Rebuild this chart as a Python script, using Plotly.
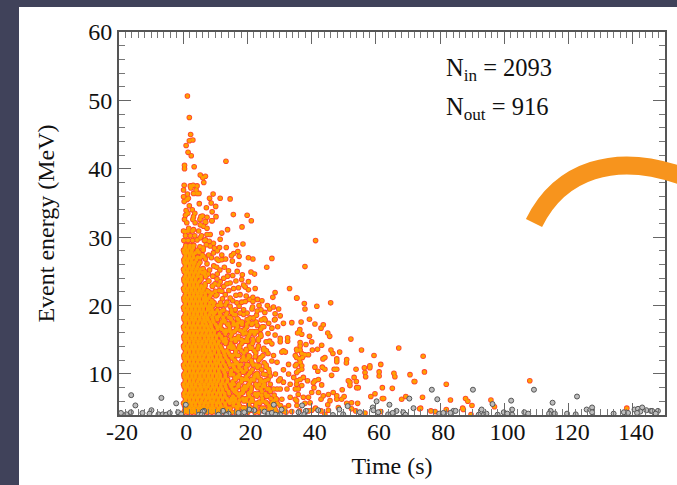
import plotly.graph_objects as go

x_ticks = [-20, 0, 20, 40, 60, 80, 100, 120, 140]
x_labels = ["-20", "0", "20", "40", "60", "80", "100", "120", "140"]
y_ticks = [10, 20, 30, 40, 50, 60]
y_labels = ["10", "20", "30", "40", "50", "60"]

# (time s, energy MeV)
in_top = [(1.3,50.65),(1.9,47.5),(2.3,45.0),(1.9,44.1),(3.0,44.2),(0.9,43.4),(1.5,42.4),(2.5,41.9),(13.3,41.1),(0.4,40.5),(0.4,40.0),(3.4,40.3),
(5.3,39.1),(6.9,38.9),(6.1,38.7),(6.4,38.0),(3.1,37.6),(0.3,37.6),(0.1,36.9),(2.2,37.5),(2.4,37.2),(4.3,37.5),(4.0,36.9),(3.2,36.4),(4.3,36.4),(4.9,36.4),
(1.3,36.3),(0.1,35.9),(1.6,35.7),(0.3,35.2),(1.2,35.5),(8.2,35.7),(9.3,36.3),(11.5,35.7),(14.6,35.6),(5.0,34.9),(8.7,35.0),(10.1,34.5),(1.9,34.6),(2.8,34.0),(7.2,34.3),(9.0,33.7),
(0.9,33.9),(0.7,33.2),(1.4,33.5),(3.6,33.5),(3.2,33.0),(3.0,32.6),(15.6,33.3),(19.9,33.2),(10.2,33.0),(21.2,32.4),(8.9,32.4),(18.3,31.5),(13.8,31.1),(5.5,33.0),(6.0,33.1),(5.2,32.6),
(7.4,32.9),(7.0,32.2),(0.4,32.6)]
in_mid = [(12,30.6),(11.5,29.7),(16.5,28.9),(18.6,29),(13.4,28.5),(11.3,28.5),(17,27.9),(15.7,27.6),(15,27.3),(12,27.4),(17.4,27.2),(20.3,27),(21.7,26.8),(27.6,26.9),(15.3,26.5),(17.3,26),(26,25.6),(14.1,25.1),(21.1,24.9),(22.2,24.6),(18.4,24.5),
(11,26.6),(12,26.7),(10.5,26.8),(9.4,27.7),(9.7,28.4),(8.4,28.7),(7.2,28.9),(7.9,27.4),(6.3,27.2),(5.3,27),(3.7,27.7),(5.3,29.9),(4.3,29.6),(7.4,30.4),(8.4,30.4),(7.4,31.3),(6.3,31.6),(4.8,30.9),(3.7,32.1),(3.2,31.1),(1.7,31.3),(0.6,30.8),(1.1,32.1),(9,32.4),(6.8,32.3),(5.3,31.8),
(14.6,23.3),(13.6,23.2),(12.6,22.8),(11.5,23.5),(10.5,23.9),(12.6,24),(13.8,24.3),(11,23),(10,22.1),(10.5,21.6),(12,22.1),(13.1,21.6),(14.6,21.1),(20.3,23.5),(18.2,23.8),(18.8,23),(17.2,22.6),(15.7,22.5),(19.3,22.7),(20.3,22.3),(22.4,22.5),(17.7,21.6),
(33.1,22.5),(28.6,21.9),(27.9,21.2),(35.4,21.1),(24.5,20.7),(23.1,20.9),(21.7,21.2),(21.7,20.6),(19.3,20.6),(18.2,20.5),(23.6,20),(21.6,19.8),(18.8,19.4),(21.4,19.5),(26.2,20),(26.9,19.5),(28.1,19.8),(29.7,19.5),(28.6,18.8),(30.2,18.5),(23,19.2),(16.7,20.4),(14.6,19.9),(16.2,19.4),(13.1,20.1),(17.7,18.9),(18.8,18.7),(15.7,18.7),(13.6,18.9),(21.9,18.2),(25.2,18.1),(28.6,18),
(9.5,25.8),(8.2,25.2),(7.4,26.1),(6.2,25.4),(9.2,24.3),(8,23.6),(7,24.2),(9.1,22.8),(8,22),(7.2,21),(9.2,20.5),(10.8,20),(12,19.2),(11,18.4),(9.2,19),(8,19.5),
(41.2,29.5),(37.9,25.7),(35.3,21.1),(37.7,20.3),(37.9,19.5),(41.6,19.9),(45.9,20.4)]
in_right = [(25.5,17.9),(28.4,17.9),(31.2,17.4),(33.8,17.5),(35.6,16),(30.2,15.2),(32.5,15.3),(30.2,14.7),(32.5,14.8),(31.8,13.2),(30.7,13.2),(31.2,13.4),(35.4,13.4),(34.9,12.7),(36.2,12.2),(32.8,11.4),(34.9,11.2),(31.2,10.6),(30.2,9.3),(34.4,9.5),(32.8,10),(35.9,10.5),(28.1,12.7),(27.6,11.9),(29.2,11.7),(28.7,10),(27.1,9.7),(29.7,9),(31.2,8.8),(33.3,8.5),(35.4,9),(34.9,7.8),(32.3,7.8),(30.2,7.8),(29.2,7.8),(27.1,8.5),(25.5,9),(26.1,7.8),(34.9,6.3),(30.7,6.3),(33.3,6.6),(30.2,5.4),(32.8,5.4),(35.4,5.4),
(36.7,17.6),(39.3,18.0),(41.0,17.3),(43.6,17.2),(42.9,16.7),(36.3,16.5),(36.1,16.1),(36.9,15.8),(39.3,15.5),(45,16),(45.6,15.5),(52.2,15.1),(36.4,14.6),(36.4,14.1),(40,14.7),(38.2,14.3),(43.1,14.2),(67.1,13.8),(55.5,13.5),(46,13.5),(46.6,13.0),(48.7,13.2),(40.2,13.5),(41.8,13.6),(35.3,13.6),(36.4,13.5),(39,12.8),(37.9,12.8),(36.9,13),(35.3,12.4),(37.1,12.4),(44.1,12.4),(43.5,12.2),(47.8,12.2),(47.8,11.8),(50.9,12.1),(50.8,11.6),(59.4,12.7),(61.5,11.4),(58.1,11.2),(58.1,10.9),(56.4,10.9),(53.8,10.7),(41,11),(43.3,11),(44.1,10.7),(41.9,10.4),(47.8,10.7),(47,10.7),(35.3,11.4),(36.4,11.7),(36.9,11.2),(35.3,10.2),(36.9,10.7),(37.4,9.5),(36.4,9.2),(38.7,9),(46.2,9.8),(53.2,9.5),(56.6,10.2),(56.8,9.6),(61,10.3),(61,9.7),(65.6,10.1),(65.9,9.6),(70.6,9.9),(71.9,8.9),(51.4,9),(51.9,8.8),(53.9,8.9),(42.1,9.2),(41,9),(40.5,8.7),(43.1,8.4),(40.7,8),(54,8),(54.5,8),(49.5,7.7),(62,8),(65.1,7.9),(51.9,8.3),(35.3,8.5),(35.8,7.8),(36.9,8.3),(42.1,7.3),(43.6,6.8),(45.2,7),(46.7,7.3),(47.8,6.8),(47.8,6.3),(50.1,6.7),(49.3,6.3),(42.9,6.3),(45.7,6.1),(45,5.5),(40,7.3),(39,6.6),(37.4,6.6),(39.5,5.8),(37.9,5.7),(35.8,7),(35.3,6.1),(58.4,6.7),(59.7,7.1),(62,6.4),(62.4,6.4),(68,6.3),(69.3,6.7),(52.4,5.8),(54.3,5.7),(50.9,5.7),(48.3,5.1),(52.4,4.9),(53.7,4.6),(45.2,4.7),(40,4.7),(41.2,5),(39,4.6),(61.5,4.5),(56.6,4.3),(44.1,4.1),(42.9,4.6),
(74.7,12.6),(75.1,10.3),(72.1,8.9),(81.9,8.5),(74.5,6.6),(83.2,6.2),(87.9,6.4),(88.6,6),(89.9,5.4),(95.8,6.2),(96.9,5.2),(73.9,5),(73.6,4.9),(77.1,4.6),(78.4,4.5),(81.9,4.8),(87,5),(87.2,4.8),(89.6,4.05),(107.9,9),(138.1,5)]

# clumps between 6 and 30 s that fill the middle of the cloud
in_clumps = [(6.9,29.6),(8.1,29.4),(9.4,29.1),(6.2,28.4),(5.2,28.6),(10.6,28.0),(8.8,27.0),(6.9,26.8),(10.4,25.6),(11.4,25.2),(12.8,25.6),(13.2,26.8),(5.9,24.8),(7.8,24.6),(10.6,24.6),(12.2,21.0),(9.9,23.2),(15.4,24.4),(16.4,23.6),(16.8,25.0),(11.2,22.2),(14.2,22.2),(16.4,21.5),(15.4,20.7),(13.6,20.5),(11.6,20.4),(19.6,21.4),(20.6,20.9),(17.4,19.9),(19.9,18.9),(20.8,18.2),(22.8,18.6),(24.2,19.4),(25.4,19.0),(24.3,17.9),(26.6,17.4),(14.8,18.2),(16.8,18.1),(12.9,17.8),(14.1,17.3),(15.6,17.2),(17,17.4),(18.4,17.6),(19.8,17.3),(21.6,17.4),(23,17.1),(25.1,16.9),(27.6,16.7),(29.4,16.9),(13.3,16.4),(14.6,16.2),(16,16.2),(17.7,16.4),(19.5,16.0),(21,16.2),(22.6,16.2),(24.1,15.8),(26.4,15.9),(28.6,15.7),(13.2,15.2),(15,15),(16.6,15.2),(18.2,15.0),(20,14.8),(21.7,15.1),(23.4,14.9),(25.8,14.7),(27.6,14.4),(14.2,13.9),(15.8,13.8),(17.6,13.9),(19.6,13.6),(21.4,13.8),(23.2,13.7),(25,13.5),(26.4,13.0),(14.6,12.7),(16.8,12.7),(18.7,12.5),(20.6,12.6),(22.4,12.5),(24.2,12.4),(16.2,11.5),(18,11.4),(19.8,11.4),(21.8,11.3),(23.8,11.2),(25.8,11),(15,10.5),(17,10.4),(18.9,10.3),(20.9,10.2),(23,10.1),(24.9,10),(26.6,10.7),(16.1,9.4),(18.2,9.3),(20,9.2),(22,9.1),(24,9),(15.2,8.4),(17.2,8.3),(19.1,8.2),(21.2,8.1),(23.2,8.0),(24.8,8.2),(16.4,7.3),(18.4,7.2),(20.4,7.2),(22.4,7.0),(24.4,6.9),(26.4,6.8),(28.3,6.9),(15.4,6.2),(17.6,6.2),(19.6,6.1),(21.6,6.0),(23.6,5.9),(25.6,5.9),(27.6,5.8),(29,6.3),(16.6,5.2),(18.7,5.1),(20.7,5.0),(22.7,5.0),(24.7,4.9),(26.7,4.9),(28.6,4.8),(31,4.6),(33.8,4.5),(36.2,4.6)]

# energy of each row in the filled region, and the times read along that row
row_energy = [4.4,5.0,5.7,6.4,7.1,7.8,8.5,9.2,9.9,10.6,11.3,12.0,12.7,13.4,14.1,14.8,15.5,16.2,16.9,17.6,18.3,19.0,19.7,20.4,21.1,21.8,22.5,23.2,23.9,24.6,25.3,26.0,26.7,27.4,28.1,28.8,29.5,30.2,30.9]
row_times = [
[0.2,1.4,2.7,3.9,5.1,6.4,7.6,8.9,10.2,11.5,12.7,15.2,16.4,17.8,20.1,22.3,23.6,26.1,29,32],
[0.7,2.1,3.3,4.6,5.8,7.1,8.4,9.5,11,12.2,13.8,14.6,16.9,18.5,19.6,21.2,24.4,25.2,27.5,28.4,31.6],
[0.1,1.3,2.6,3.8,5.2,6.5,7.7,9,10.3,11.4,13,14.5,15.7,17.2,20.4,22.7,23.8,26,29.3],
[0.8,2,3.3,4.5,5.9,7.2,8.3,9.6,10.9,12.3,13.6,15,16.2,18.6,19.7,21.4,24.6,27.3,28.8],
[0.2,1.5,2.7,4,5.2,6.6,7.8,9,10.4,11.6,12.9,14.3,16.8,17.8,20.3,22.4,23.4,25.6],
[0.7,2.1,3.3,4.6,5.8,7.1,8.5,9.7,11,12.2,13.5,15.3,16.4,18.4,19.5,21.2,24.2,26.7,28.1],
[0.1,1.4,2.6,3.9,5.2,6.5,7.8,9,10.3,11.7,13,14.6,15.8,17.3,20.4,22.6,23.7,25.2],
[0.7,2,3.3,4.7,5.8,7.2,8.4,9.7,11,12.3,13.8,16.3,18.4,19.2,21.3,24.1,26.4],
[0.2,1.4,2.7,3.9,5.2,6.5,7.8,9.1,10.4,11.5,13.1,14.7,15.6,17.4,20.3,22.4,23.2,25.7],
[0.8,2,3.3,4.6,5.9,7.2,8.4,9.7,11,12.4,13.7,16.2,18.1,19.6,21.5,24.4],
[0.1,1.4,2.7,3.9,5.2,6.5,7.8,9.1,10.3,11.6,13,14.5,15.4,17.3,20.2,22.7,25.8],
[0.7,2,3.3,4.6,5.8,7.2,8.4,9.8,11.1,12.3,13.9,16,18.3,19.5,21.2,23.5],
[0.2,1.4,2.7,3.9,5.2,6.5,7.8,8.9,10.4,11.6,13,14.7,15.6,17.2,20.4,24.8],
[0.8,2,3.3,4.6,5.9,7.2,8.3,9.7,11,12.4,13.6,16.4,18.1,19.7,22.1,25.9],
[0.1,1.4,2.7,3.9,5.2,6.5,7.8,9,10.3,11.6,14.6,15.5,17.5,20.6,23.4],
[0.7,2,3.3,4.6,5.9,7.2,8.5,9.6,11.1,12.6,13.4,16.3,18.6,19.4,21.8,26.9],
[0.2,1.4,2.7,3.9,5.2,6.5,7.8,9,10.4,11.8,14.7,17.2,20.3,24.2],
[0.8,2,3.3,4.6,5.9,7.2,8.4,9.7,12.7,13.5,15.8,18.4,21.6,22.9],
[0.1,1.4,2.7,3.9,5.2,6.5,7.7,8.8,10.5,11.4,14.4,16.9,19.8,24.6],
[0.7,2,3.3,4.6,5.9,7,8.3,9.5,11.9,13,15.6,17.8,20.4,22.7],
[0.2,1.4,2.7,3.9,5.1,6.4,7.5,9,10.4,12.4,14.2],
[0.8,2,3.3,4.5,5.7,6.9,8.4,9.9,11.3,15.1],
[0.1,1.4,2.6,3.8,5,6.2,7.6,8.8],
[0.7,2,3.2,4.4,5.6,6.9,8.3,9.6],
[0.2,1.4,2.6,3.8,5,6.3,8],
[0.8,2,3.2,4.4,5.6,6.8,9],
[0.1,1.4,2.6,3.8,5.1,6.4],
[0.7,2,3.2,4.5,6.8],
[0.2,1.4,2.6,3.9,5.6],
[0.8,2,3.3,4.6,6.6],
[0.1,1.4,2.7,4,5.3],
[0.7,2,3.3,4.7],
[0.2,1.4,2.6,4.1],
[0.7,2,3.1,5.9],
[0.1,1.3,2.7,4.4,6.2],
[0.8,2.1,3.3],
[0.2,1.5,2.9,6.6],
[0.7,2.2,3.6,5.7],
[0.1,1.5,2.8],
]

# rows between the rows above, inside the solid part of the cloud
fill_energy = [4.7,5.35,6.05,6.75,7.45,8.15,8.85,9.55,10.25,10.95,11.65,12.35,13.05,13.75,14.45,15.15,15.85,16.55,17.25,17.95,18.65,19.35,20.05,20.75,21.45,22.15,22.85,23.55,24.25,24.95,25.65,26.35,27.05,27.75,28.45]
fill_times = [
[0.5,1.1,2.1,3.3,4.5,5.8,7.0,8.3,9.5,10.8,12.1,13.5,14.3,16.9,19.0,21.0,24.9],
[0.4,1.5,2.7,3.9,5.2,6.4,7.7,9.0,10.3,11.7,13.1,15.6,17.5,20.4,22.6,26.7,30.3],
[0.6,2.0,3.2,4.5,5.7,7.0,8.4,9.5,10.9,12.2,13.9,14.7,16.4,18.9,21.1,24.7,28.1],
[0.3,1.4,2.6,3.9,5.2,6.5,7.8,9.0,10.2,11.6,13,15.5,17.3,20.6,22.9,25.9],
[0.6,2.1,3.3,4.6,5.8,7.1,8.2,9.6,11,12.3,14.1,15.9,18.7,21.0,24.5,27.1],
[0.3,1.4,2.7,3.9,5.3,6.5,7.7,9.1,10.3,11.7,13.2,14.9,17.1,19.9,22.9,25.3],
[0.6,2,3.2,4.5,5.8,7.1,8.4,9.6,10.8,12.2,13.7,15.4,18.1,20.8,24.6],
[0.3,1.4,2.7,3.9,5.2,6.5,7.8,9,10.4,11.5,13.1,16.7,17.2,19.6,22.1,23.3],
[0.6,2,3.2,4.5,5.8,7.1,8.4,9.7,11.1,12.8,14.8,18.6,20.8,26.8],
[0.3,1.5,2.7,3.9,5.2,6.5,7.8,9,10.3,11.7,13.3,15.8,17.4,19.4,23.1],
[0.6,2,3.2,4.5,5.9,7.1,8.5,9.9,10.9,12.4,14.2,16.7,21.4,25.2],
[0.3,1.4,2.7,3.9,5.2,6.4,7.8,9.0,10.4,11.7,13.3,15.2,18.8,20.2,23.9],
[0.6,2,3.3,4.6,5.8,7.1,8.4,9.6,11.1,12.7,14.1,16.3,18.9,22.6],
[0.3,1.4,2.7,3.9,5.2,6.5,7.8,9.1,10.5,11.9,15.1,17.3,20.9,25.1],
[0.6,2,3.3,4.6,5.8,7.1,8.4,9.7,10.9,13.2,14.8,18.2,21.5],
[0.3,1.4,2.7,3.9,5.2,6.6,7.8,9,10.3,12.1,15.9,17.2,19.9,23.4],
[0.6,2,3.2,4.5,5.8,7.1,8.4,9.6,11.2,13.1,15.1,18.7,20.7,22.2],
[0.3,1.4,2.7,3.9,5.2,6.5,7.8,9.1,10.7,12,14.4,16.6,19.2,24.1],
[0.6,2,3.2,4.5,5.9,7.2,8.6,10.1,11.6,13.8,16.2,18.3,21.3],
[0.3,1.4,2.7,3.8,5.2,6.5,7.7,9.2,10.6,12.5,14.9,17.1,19.9],
[0.6,2,3.2,4.4,5.7,7,8.2,9.5,11.5,13.3,16.3],
[0.3,1.4,2.6,3.8,5,6.2,7.6,9,10.6,12.6,15],
[0.6,2,3.2,4.4,5.6,6.8,8.1,9.4,11.8],
[0.3,1.4,2.6,3.8,5,6.3,7.4,8.9],
[0.6,2,3.2,4.4,5.5,6.9,8.4,10.1],
[0.3,1.4,2.6,3.8,5,6.1,7.5],
[0.6,2,3.2,4.4,5.6,6.8,9.1],
[0.3,1.4,2.6,3.8,5.1,7.8],
[0.6,1.9,3.1,4.4,5.5],
[0.3,1.4,2.6,3.8,5,6.8],
[0.6,2,3.1,4.4],
[0.3,1.4,2.6,3.6,5.2],
[0.6,1.9,3.2,4.5],
[0.3,1.4,2.5,4.9],
[0.6,1.9,3.1],
]

out_points = [(-16.2,6.9),(-14.9,5.4),(-6.8,6.5),(-2.2,5.7),(0.8,5.5),(-9.9,4.7),(-16.3,4.4),(-19.4,4.3),(-17.7,4.1),(-12.7,4.3),(-10.5,4.2),(-7.7,4.1),(-6.4,4.1),(-5.3,4.05),(-4.2,4.3),(-1.6,4.4),(-0.6,4.1),(6.5,4.6),(6.1,4.5),(4.9,4.05),(5.8,4.05),(12.4,4.6),(11,4.05),(14.1,4.2),(13.4,4.0),(17.2,4.3),(19,4.4),(20.5,4.8),(22.1,4.7),(25.3,4.5),(26.4,4.2),(27.6,4.3),(28.8,4.05),(30.2,4.05),(28.2,5.5),(30.6,4.8),(37,5.4),(35.9,4.4),(38.2,4.6),(37.7,4.1),(42,4.7),
(48.6,4.8),(51.2,5.3),(46.6,4),(49.8,4.1),(60.2,6),(59,5.1),(59.2,4.7),(64.2,5.5),(55,4.4),(60.7,4.4),(63.8,4.1),(66.4,4.6),(65.2,4.3),(68.5,4.4),(69.2,4.05),(70.4,6.4),(71.7,5),
(77.4,7.7),(90.2,7.7),(79.1,6.3),(96.3,5.6),(102.1,6.1),(102.4,4.8),(92.9,4.8),(84.1,4.6),(84.8,4.6),(79.7,4.2),(81,4.3),(83.2,4.3),(92,4.05),(93.6,4.05),(94.4,4.2),(97.9,4.05),(99.8,4.4),(100.9,4.2),(102.4,4.05),(106.2,4.4),(107.4,4.2),
(109.2,7.7),(115,5.8),(122.6,6.7),(125.6,4.8),(127.3,5.1),(127.3,4.4),(114.4,4.6),(113.9,4.2),(115.7,4.2),(119.5,4.2),(122.2,4.1),(134,4.2),(137.2,4.4),(138.5,4.3),(140.5,4.8),(141.6,4.9),(142.9,5.1),(142.3,4.5),(141.3,4.3),(144.2,4.7),(145.6,4.6),(146,4.6),(147.8,4.6),(147.1,4.2)]

in_points = in_top + in_mid + in_right + in_clumps
in_time = [p[0] for p in in_points]
in_energy = [p[1] for p in in_points]
for e, times in list(zip(row_energy, row_times)) + list(zip(fill_energy, fill_times)):
    in_time += times
    in_energy += [e] * len(times)
out_time = [p[0] for p in out_points]
out_energy = [p[1] for p in out_points]

SERIF = "Liberation Serif"
L, R, T, B = 119, 12, 32, 70
W, H = 677 - L - R, 485 - T - B

def px(v):
    return (v - L) / W

def py(v):
    return 1 - (v - T) / H

fig = go.Figure()
fig.add_trace(go.Scatter(x=in_time, y=in_energy, mode="markers", hoverinfo="skip",
    marker=dict(size=5.6, color="#ff4030", line=dict(width=0))))
fig.add_trace(go.Scatter(x=in_time, y=in_energy, mode="markers", hoverinfo="skip",
    marker=dict(size=4.0, color="#ffa000", line=dict(width=0))))
fig.add_trace(go.Scatter(x=out_time, y=out_energy, mode="markers", hoverinfo="skip",
    marker=dict(size=5, color="#bdbdbd", line=dict(width=1, color="#555555"))))

axis_common = dict(showgrid=False, zeroline=False, showline=True, linewidth=2, linecolor="#555555",
    mirror="allticks", ticks="inside", ticklen=12, tickwidth=1, tickcolor="#666666",
    tickfont=dict(family=SERIF, size=24, color="#111111"))
fig.update_xaxes(range=[-20, 150], tickmode="array", tickvals=x_ticks, ticktext=x_labels,
    ticklabelshift=3, ticklabelstandoff=-6,
    minor=dict(dtick=2, tick0=0, ticks="inside", ticklen=6, tickwidth=1, tickcolor="#777777", showgrid=False),
    title=dict(text="Time (s)", font=dict(family=SERIF, size=24, color="#111111"), standoff=13),
    **axis_common)
fig.update_yaxes(range=[4, 60], tickmode="array", tickvals=y_ticks, ticktext=y_labels,
    minor=dict(dtick=2, tick0=0, ticks="inside", ticklen=6, tickwidth=1, tickcolor="#777777", showgrid=False),
    title=dict(text="Event energy (MeV)", font=dict(family=SERIF, size=24, color="#111111"), standoff=27),
    **axis_common)

fig.add_annotation(x=px(444), y=py(69), xref="paper", yref="paper", xanchor="left", yanchor="middle",
    showarrow=False, text="N<sub>in</sub> = 2093", font=dict(family=SERIF, size=24.5, color="#111111"))
fig.add_annotation(x=px(444), y=py(108), xref="paper", yref="paper", xanchor="left", yanchor="middle",
    showarrow=False, text="N<sub>out</sub> = 916", font=dict(family=SERIF, size=24.5, color="#111111"))

fig.update_layout(width=677, height=485, autosize=False, showlegend=False,
    margin=dict(l=L, r=R, t=T, b=B, pad=0, autoexpand=False),
    paper_bgcolor="#40425a", plot_bgcolor="rgba(0,0,0,0)",
    shapes=[
        dict(type="rect", xref="paper", yref="paper", layer="below",
             x0=px(19), x1=px(677), y0=py(485), y1=py(7), fillcolor="white", line=dict(width=0)),
        dict(type="path", xref="paper", yref="paper", layer="above",
             path=f"M {px(534)} {py(223)} C {px(560)} {py(170)}, {px(615)} {py(152)}, {px(682)} {py(176)}",
             line=dict(color="#f7941d", width=18)),
    ])

fig.write_html("out.html", config=dict(displayModeBar=False),
               post_script="document.body.style.margin='0';document.body.style.background='#40425a';")
